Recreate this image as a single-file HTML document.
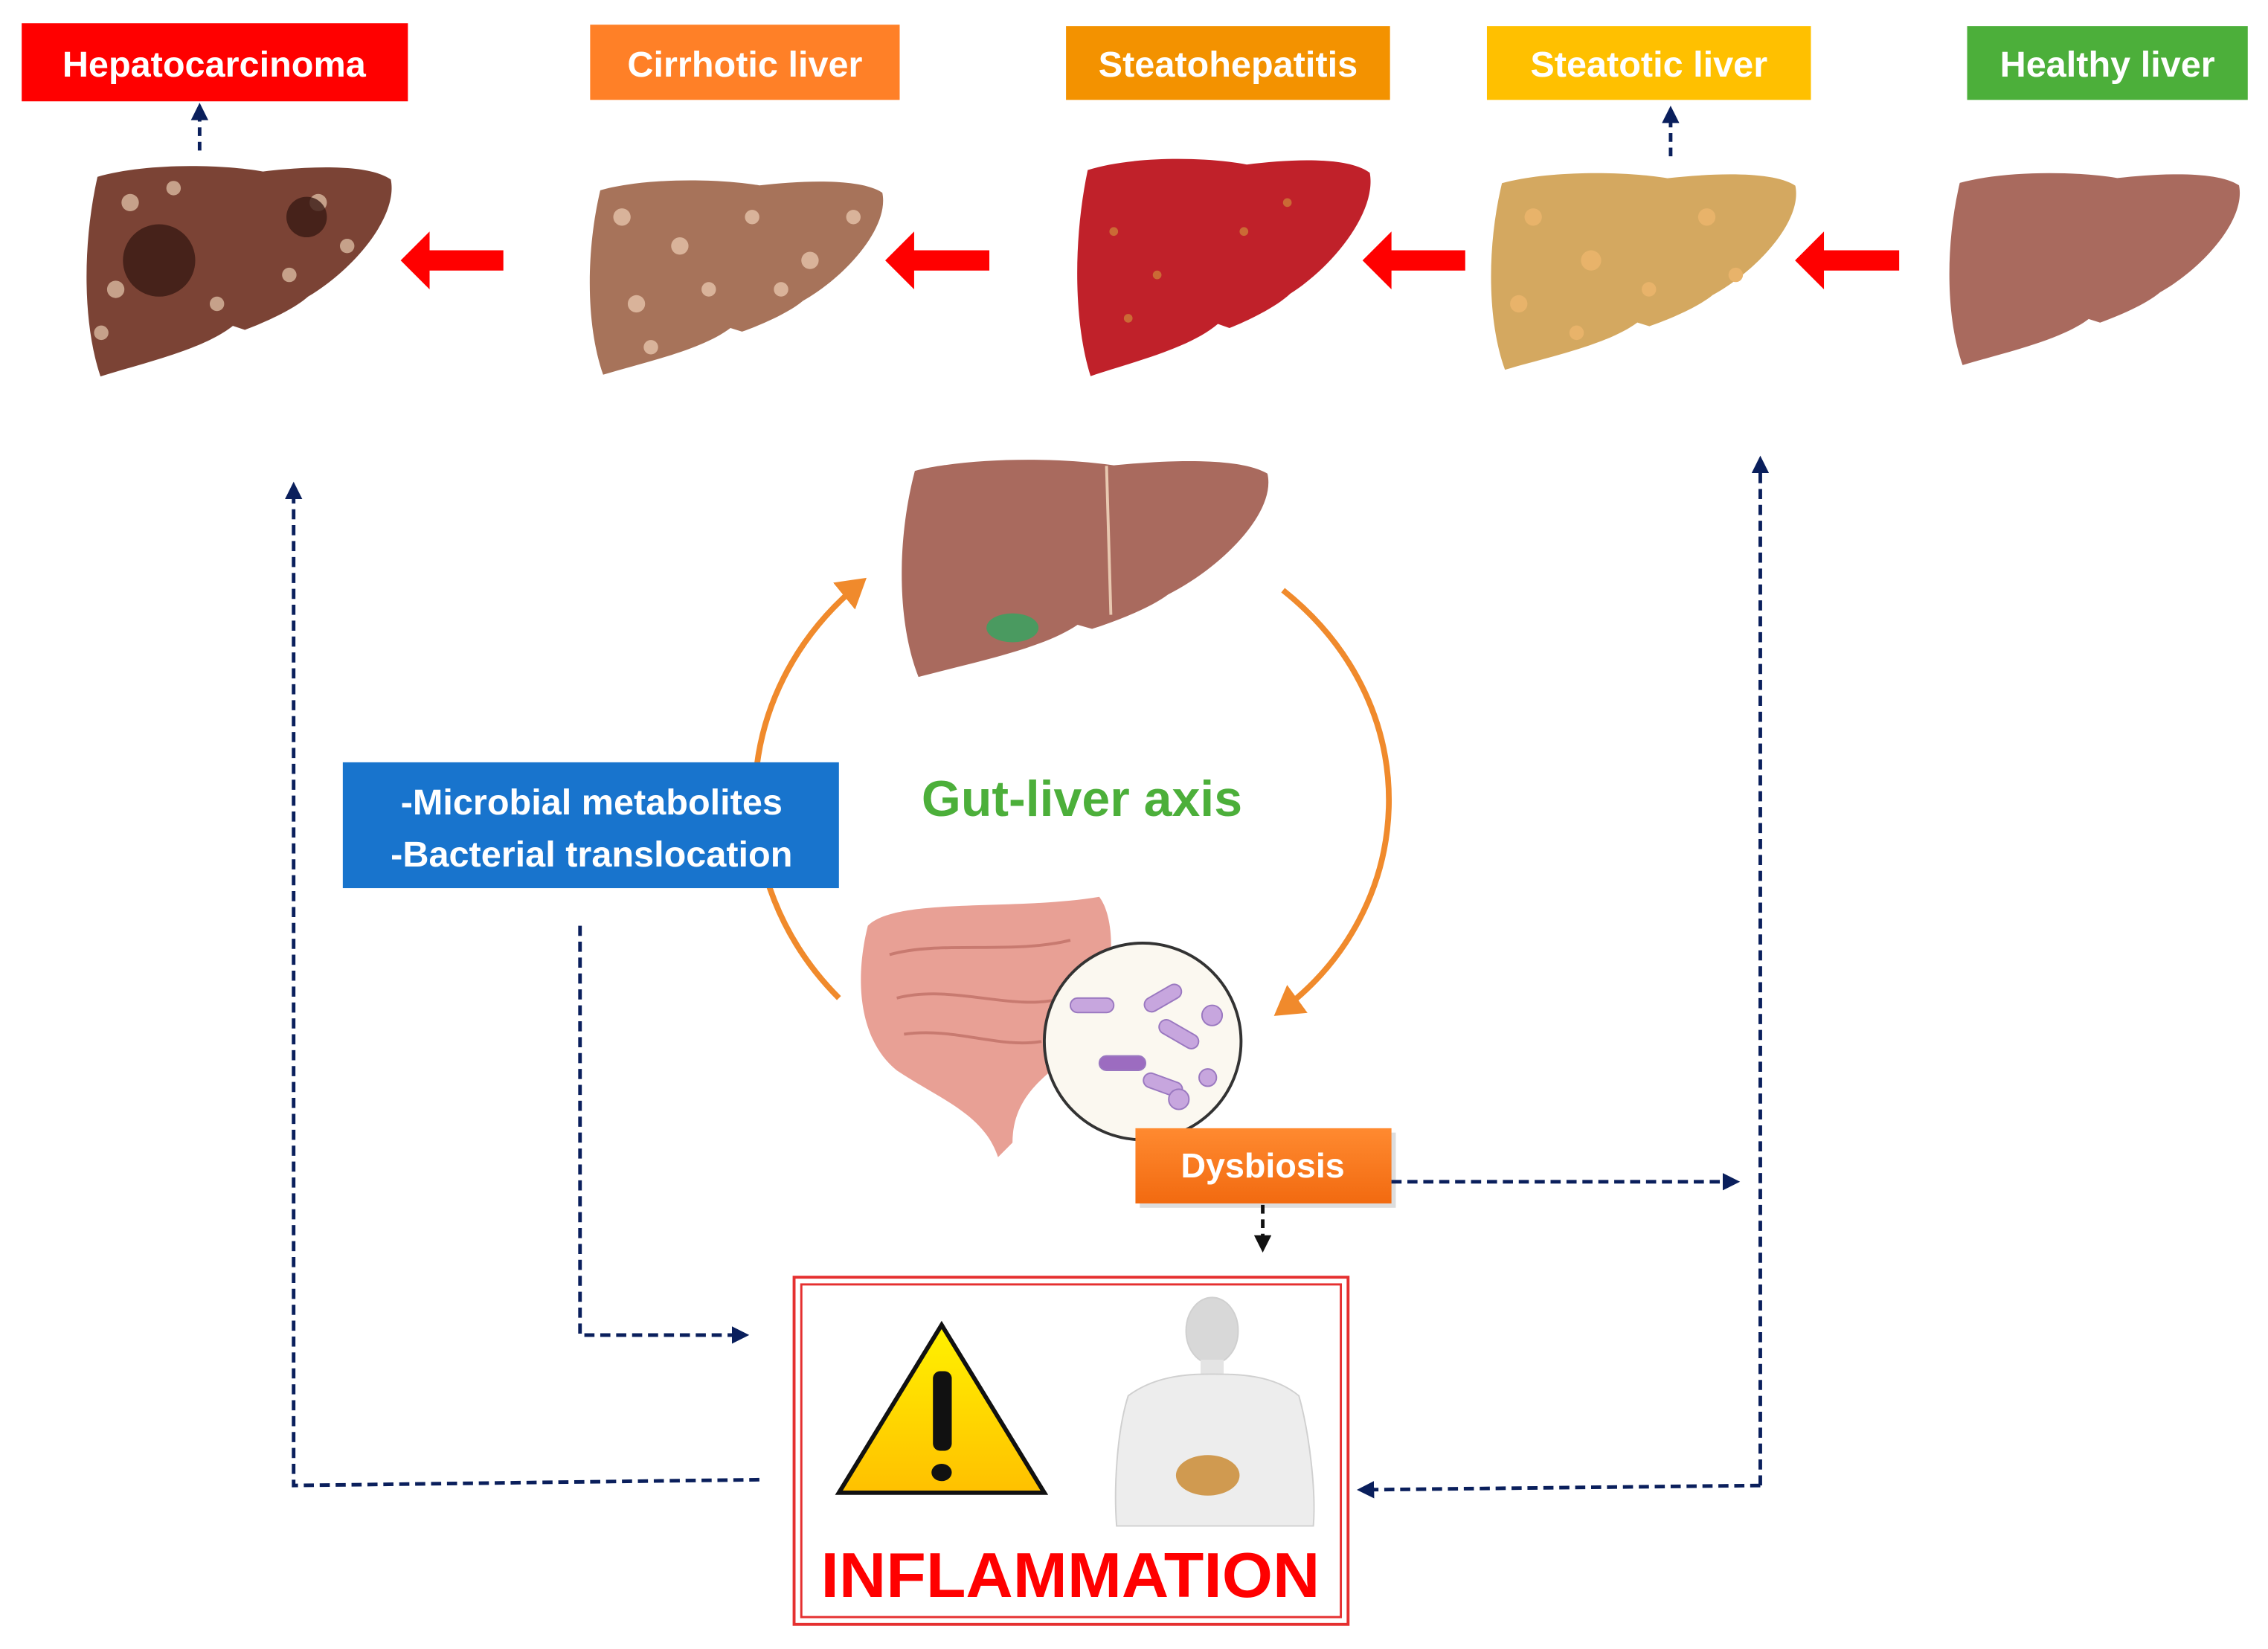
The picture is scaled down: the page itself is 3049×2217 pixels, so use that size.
<!DOCTYPE html>
<html><head><meta charset="utf-8"><style>
html,body{margin:0;padding:0;background:#fff;}
svg{display:block;}
text{font-family:"Liberation Sans",sans-serif;}
</style></head><body>
<svg width="3049" height="2217" viewBox="0 0 1568 1140" xmlns="http://www.w3.org/2000/svg">
<defs>
<marker id="ah" markerWidth="12" markerHeight="12" refX="9" refY="6" orient="auto" markerUnits="userSpaceOnUse"><path d="M0,0 L12,6 L0,12 z" fill="#0A1F5C"/></marker>
<marker id="ahk" markerWidth="12" markerHeight="12" refX="9" refY="6" orient="auto" markerUnits="userSpaceOnUse"><path d="M0,0 L12,6 L0,12 z" fill="#111"/></marker>
<marker id="ao" markerWidth="24" markerHeight="24" refX="16" refY="12" orient="auto" markerUnits="userSpaceOnUse"><path d="M0,0 L20,12 L0,24 z" fill="#F08A2C"/></marker>
<linearGradient id="tri" x1="0" y1="0" x2="0" y2="1"><stop offset="0" stop-color="#FFF200"/><stop offset="1" stop-color="#FFC000"/></linearGradient>
<linearGradient id="dys" x1="0" y1="0" x2="0" y2="1"><stop offset="0" stop-color="#FF8A30"/><stop offset="1" stop-color="#F26A10"/></linearGradient>
<g id="liver"><path d="M10,10 C40,0 90,0 120,6 C150,2 190,0 205,12 C210,40 180,80 150,100 C140,110 120,120 108,125 L100,122 C80,140 40,150 12,160 C0,120 0,60 10,10 z"/></g>
</defs>

<rect x="15" y="16" width="267" height="54" fill="#FF0000"/>
<text x="148" y="53" font-size="25" font-weight="bold" fill="#fff" text-anchor="middle">Hepatocarcinoma</text>
<rect x="408" y="17" width="214" height="52" fill="#FF8027"/>
<text x="515" y="53" font-size="25" font-weight="bold" fill="#fff" text-anchor="middle">Cirrhotic  liver</text>
<rect x="737" y="18" width="224" height="51" fill="#F39200"/>
<text x="849" y="53" font-size="25" font-weight="bold" fill="#fff" text-anchor="middle">Steatohepatitis</text>
<rect x="1028" y="18" width="224" height="51" fill="#FFC000"/>
<text x="1140" y="53" font-size="25" font-weight="bold" fill="#fff" text-anchor="middle">Steatotic liver</text>
<rect x="1360" y="18" width="194" height="51" fill="#4CAF3A"/>
<text x="1457" y="53" font-size="25" font-weight="bold" fill="#fff" text-anchor="middle">Healthy liver</text>

<line x1="138" y1="104" x2="138" y2="74" stroke="#0A1F5C" stroke-width="2.5" stroke-dasharray="6 4" marker-end="url(#ah)"/>
<line x1="1155" y1="108" x2="1155" y2="76" stroke="#0A1F5C" stroke-width="2.5" stroke-dasharray="6 4" marker-end="url(#ah)"/>

<g transform="translate(57,113) scale(1.04,0.92)" fill="#7B4335"><use href="#liver"/></g>
<g fill="#D9B9A0" opacity="0.8"><circle cx="90" cy="140" r="6"/><circle cx="120" cy="130" r="5"/><circle cx="220" cy="140" r="6"/><circle cx="240" cy="170" r="5"/><circle cx="80" cy="200" r="6"/><circle cx="150" cy="210" r="5"/><circle cx="200" cy="190" r="5"/><circle cx="70" cy="230" r="5"/></g>
<circle cx="110" cy="180" r="25" fill="#3A1A14" opacity="0.8"/><circle cx="212" cy="150" r="14" fill="#3A1A14" opacity="0.8"/>
<g transform="translate(405,123) scale(1.0,0.85)" fill="#A7735A"><use href="#liver"/></g>
<g fill="#D9B39A"><circle cx="430" cy="150" r="6"/><circle cx="470" cy="170" r="6"/><circle cx="520" cy="150" r="5"/><circle cx="560" cy="180" r="6"/><circle cx="590" cy="150" r="5"/><circle cx="440" cy="210" r="6"/><circle cx="490" cy="200" r="5"/><circle cx="450" cy="240" r="5"/><circle cx="540" cy="200" r="5"/></g>
<g transform="translate(742,108) scale(1.0,0.95)" fill="#C0212A"><use href="#liver"/></g>
<g fill="#D08A3A" opacity="0.7"><circle cx="770" cy="160" r="3"/><circle cx="800" cy="190" r="3"/><circle cx="780" cy="220" r="3"/><circle cx="860" cy="160" r="3"/><circle cx="890" cy="140" r="3"/></g>
<g transform="translate(1028,118) scale(1.04,0.86)" fill="#D4A860"><use href="#liver"/></g>
<g fill="#E8B36A"><circle cx="1060" cy="150" r="6"/><circle cx="1100" cy="180" r="7"/><circle cx="1180" cy="150" r="6"/><circle cx="1200" cy="190" r="5"/><circle cx="1050" cy="210" r="6"/><circle cx="1090" cy="230" r="5"/><circle cx="1140" cy="200" r="5"/></g>
<g transform="translate(1345,118) scale(0.99,0.84)" fill="#A96A5E"><use href="#liver"/></g>

<g fill="#FF0000">
<path d="M348,173 L297,173 L297,160 L277,180 L297,200 L297,187 L348,187 z"/>
<path d="M684,173 L632,173 L632,160 L612,180 L632,200 L632,187 L684,187 z"/>
<path d="M1013,173 L962,173 L962,160 L942,180 L962,200 L962,187 L1013,187 z"/>
<path d="M1313,173 L1261,173 L1261,160 L1241,180 L1261,200 L1261,187 L1313,187 z"/>
</g>

<g transform="translate(620,316) scale(1.25,0.95)" fill="#A96A5E"><use href="#liver"/></g>
<line x1="765" y1="322" x2="768" y2="425" stroke="#E8C8B0" stroke-width="2"/>
<ellipse cx="700" cy="434" rx="18" ry="10" fill="#4A9A60"/>

<path d="M580,690 C500,610 500,480 596,402" fill="none" stroke="#F08A2C" stroke-width="4" marker-end="url(#ao)"/>
<path d="M887,408 C990,490 980,630 884,700" fill="none" stroke="#F08A2C" stroke-width="4" marker-end="url(#ao)"/>

<text x="748" y="564" font-size="35" font-weight="bold" fill="#4CAF3A" text-anchor="middle">Gut-liver axis</text>

<rect x="237" y="527" width="343" height="87" fill="#1874CD"/>
<text x="409" y="563" font-size="25" font-weight="bold" fill="#fff" text-anchor="middle">-Microbial metabolites</text>
<text x="409" y="599" font-size="25" font-weight="bold" fill="#fff" text-anchor="middle">-Bacterial translocation</text>

<path d="M600,640 C620,620 700,630 760,620 C775,640 770,700 740,730 C720,745 700,760 700,790 L690,800 C680,770 650,760 620,740 C595,720 590,680 600,640 z" fill="#E8A095"/>
<path d="M615,660 C650,650 700,660 740,650 M620,690 C660,680 700,700 735,690 M625,715 C660,710 690,725 720,720" stroke="#C87A70" stroke-width="2" fill="none"/>
<circle cx="790" cy="720" r="68" fill="#FBF8F0" stroke="#333" stroke-width="2"/>
<g fill="#C7A6DE" stroke="#9A78C0" stroke-width="1">
<rect x="740" y="690" width="30" height="10" rx="5"/><rect x="790" y="685" width="28" height="10" rx="5" transform="rotate(-30 804 690)"/>
<rect x="760" y="730" width="32" height="10" rx="5" fill="#9C6CC0"/><rect x="800" y="710" width="30" height="10" rx="5" transform="rotate(30 815 715)"/>
<rect x="790" y="745" width="28" height="10" rx="5" transform="rotate(20 804 750)"/><circle cx="838" cy="702" r="7"/><circle cx="815" cy="760" r="7"/><circle cx="835" cy="745" r="6"/>
</g>

<rect x="788" y="783" width="177" height="52" fill="#bbb" opacity="0.5"/>
<rect x="785" y="780" width="177" height="52" fill="url(#dys)"/>
<text x="873" y="814" font-size="24" font-weight="bold" fill="#fff" text-anchor="middle">Dysbiosis</text>

<g fill="none" stroke="#0A1F5C" stroke-width="2.5" stroke-dasharray="7 4">
<polyline points="401,640 401,923 515,923" marker-end="url(#ah)"/>
<polyline points="525,1023 203,1027 203,336" marker-end="url(#ah)"/>
<line x1="962" y1="817" x2="1200" y2="817" marker-end="url(#ah)"/>
<polyline points="1217,1027 1217,318" marker-end="url(#ah)"/>
<polyline points="1217,1027 941,1030" marker-end="url(#ah)"/>
</g>
<line x1="873" y1="833" x2="873" y2="863" stroke="#111" stroke-width="2.5" stroke-dasharray="6 4" marker-end="url(#ahk)"/>

<rect x="549" y="883" width="383" height="240" fill="#fff" stroke="#E53030" stroke-width="2"/>
<rect x="554" y="888" width="373" height="230" fill="none" stroke="#E53030" stroke-width="1.5"/>
<path d="M651,916 L722,1032 L580,1032 z" fill="url(#tri)" stroke="#111" stroke-width="3"/>
<rect x="645" y="948" width="13" height="55" rx="5" fill="#111"/>
<ellipse cx="651" cy="1018" rx="7" ry="6" fill="#111"/>
<g fill="#EDEDED" stroke="#D0D0D0" stroke-width="1">
<ellipse cx="838" cy="920" rx="18" ry="23" fill="#D8D8D8"/>
<rect x="830" y="940" width="16" height="12" fill="#E4E4E4" stroke="none"/>
<path d="M780,965 C800,950 825,950 838,950 C855,950 880,950 898,965 C905,990 910,1030 908,1055 L772,1055 C770,1030 772,990 780,965 z"/>
</g>
<ellipse cx="835" cy="1020" rx="22" ry="14" fill="#D09A50"/>
<text x="740" y="1104" font-size="44" font-weight="bold" fill="#FF0000" text-anchor="middle" textLength="345" lengthAdjust="spacingAndGlyphs">INFLAMMATION</text>
</svg>
</body></html>
